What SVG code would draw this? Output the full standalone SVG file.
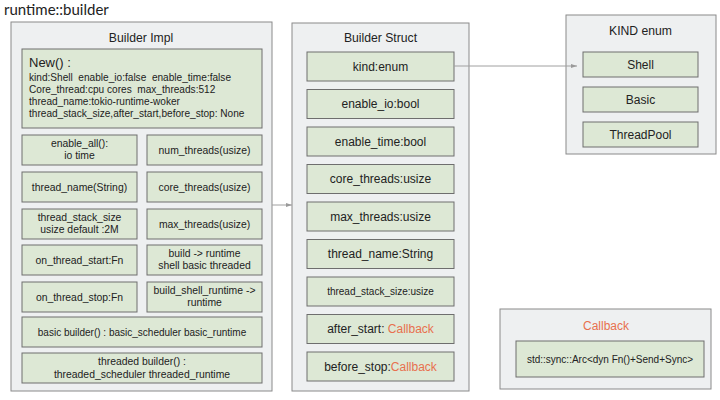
<svg xmlns="http://www.w3.org/2000/svg" width="720" height="400" viewBox="0 0 720 400">
<defs>
<style>
text{font-family:"Liberation Sans",Arial,sans-serif;fill:#222;}
.outer{fill:#eef0f1;stroke:#8a8a8a;stroke-width:1;}
.inner{fill:#dde8d5;stroke:#6e6e6e;stroke-width:1;}
.t13{font-size:12.2px;text-anchor:middle;}
.t12{font-size:12.2px;text-anchor:middle;}
.t11{font-size:12px;text-anchor:middle;}
.t10{font-size:10.4px;text-anchor:middle;}
.t9{font-size:10px;text-anchor:middle;}
.n{font-size:10.1px;}
.red{fill:#e8704e;}
.conn{stroke:#a0a0a0;stroke-width:1;fill:none;}
</style>
<marker id="arr" viewBox="0 0 10 10" refX="10" refY="5" markerWidth="6.5" markerHeight="6.5" orient="auto">
<path d="M0,1.5 L10,5 L0,8.5 z" fill="#9a9a9a"/>
</marker>
</defs>
<rect width="720" height="400" fill="#ffffff"/>
<text x="4" y="15" style="font-family:Lato,'Open Sans',sans-serif;font-size:15px;">runtime::builder</text>

<g id="builder-impl">
<rect class="outer" x="11" y="22" width="261" height="369"/>
<text class="t13" x="141" y="42">Builder Impl</text>
<g id="impl-new">
<rect class="inner" x="22" y="49" width="240" height="79"/>
<text x="29" y="67" style="font-size:13px">New() :</text>
<text class="n" x="29" y="81" xml:space="preserve">kind:Shell  enable_io:false  enable_time:false</text>
<text class="n" x="29" y="93" xml:space="preserve">Core_thread:cpu cores  max_threads:512</text>
<text class="n" x="29" y="105">thread_name:tokio-runtime-woker</text>
<text class="n" x="29" y="117">thread_stack_size,after_start,before_stop: None</text>
</g>
<g id="impl-enable-all"><rect class="inner" x="22" y="135" width="115" height="30"/>
<text class="t10" x="79.5" y="147">enable_all():</text><text class="t10" x="79.5" y="159">io time</text></g>
<g id="impl-num-threads"><rect class="inner" x="147" y="135" width="115" height="30"/>
<text class="t10" x="204.5" y="154">num_threads(usize)</text></g>
<g id="impl-thread-name"><rect class="inner" x="22" y="172" width="115" height="30"/>
<text class="t10" x="79.5" y="191">thread_name(String)</text></g>
<g id="impl-core-threads"><rect class="inner" x="147" y="172" width="115" height="30"/>
<text class="t10" x="204.5" y="191">core_threads(usize)</text></g>
<g id="impl-stack-size"><rect class="inner" x="22" y="209" width="115" height="30"/>
<text class="t10" x="79.5" y="221">thread_stack_size</text><text class="t10" x="79.5" y="233">usize default :2M</text></g>
<g id="impl-max-threads"><rect class="inner" x="147" y="209" width="115" height="30"/>
<text class="t10" x="204.5" y="228">max_threads(usize)</text></g>
<g id="impl-on-start"><rect class="inner" x="22" y="245" width="115" height="30"/>
<text class="t10" x="79.5" y="264">on_thread_start:Fn</text></g>
<g id="impl-build"><rect class="inner" x="147" y="245" width="115" height="30"/>
<text class="t10" x="204.5" y="257">build -&gt; runtime</text><text class="t10" x="204.5" y="269">shell basic threaded</text></g>
<g id="impl-on-stop"><rect class="inner" x="22" y="282" width="115" height="30"/>
<text class="t10" x="79.5" y="301">on_thread_stop:Fn</text></g>
<g id="impl-build-shell"><rect class="inner" x="147" y="282" width="115" height="30"/>
<text class="t10" x="204.5" y="294">build_shell_runtime -&gt;</text><text class="t10" x="204.5" y="306">runtime</text></g>
<g id="impl-basic"><rect class="inner" x="22" y="317" width="240" height="30"/>
<text class="t9" x="142" y="336">basic builder() : basic_scheduler basic_runtime</text></g>
<g id="impl-threaded"><rect class="inner" x="22" y="353" width="240" height="30"/>
<text class="t10" x="142" y="365">threaded builder() :</text><text class="t10" x="142" y="378">threaded_scheduler threaded_runtime</text></g>
</g>

<g id="builder-struct">
<rect class="outer" x="292" y="23" width="177" height="368"/>
<text class="t12" x="380.5" y="42">Builder Struct</text>
<g id="s-kind"><rect class="inner" x="307" y="52" width="147" height="29"/><text class="t11" x="380.5" y="70.5">kind:enum</text></g>
<g id="s-io"><rect class="inner" x="307" y="89.5" width="147" height="29"/><text class="t11" x="380.5" y="108">enable_io:bool</text></g>
<g id="s-time"><rect class="inner" x="307" y="127" width="147" height="29"/><text class="t11" x="380.5" y="145.5">enable_time:bool</text></g>
<g id="s-core"><rect class="inner" x="307" y="164.5" width="147" height="29"/><text class="t11" x="380.5" y="183">core_threads:usize</text></g>
<g id="s-max"><rect class="inner" x="307" y="202" width="147" height="29"/><text class="t11" x="380.5" y="220.5">max_threads:usize</text></g>
<g id="s-name"><rect class="inner" x="307" y="239.5" width="147" height="29"/><text class="t11" x="380.5" y="258">thread_name:String</text></g>
<g id="s-stack"><rect class="inner" x="307" y="277" width="147" height="29"/><text class="t9" x="380.5" y="295">thread_stack_size:usize</text></g>
<g id="s-after"><rect class="inner" x="307" y="314.5" width="147" height="29"/><text class="t11" x="380.5" y="333">after_start: <tspan class="red">Callback</tspan></text></g>
<g id="s-before"><rect class="inner" x="307" y="352" width="147" height="29"/><text class="t11" x="380.5" y="370.5">before_stop:<tspan class="red">Callback</tspan></text></g>
</g>

<g id="kind-enum">
<rect class="outer" x="566" y="15" width="150" height="139"/>
<text class="t12" x="640.5" y="35">KIND enum</text>
<g id="k-shell"><rect class="inner" x="583" y="52" width="115" height="25"/><text class="t11" x="640.5" y="68.5">Shell</text></g>
<g id="k-basic"><rect class="inner" x="583" y="87" width="115" height="25"/><text class="t11" x="640.5" y="103.5">Basic</text></g>
<g id="k-pool"><rect class="inner" x="583" y="122" width="115" height="25"/><text class="t11" x="640.5" y="138.5">ThreadPool</text></g>
</g>

<g id="callback">
<rect class="outer" x="500" y="309" width="211" height="80"/>
<text class="t11 red" x="606" y="330">Callback</text>
<g id="cb-arc"><rect class="inner" x="516" y="341" width="188" height="36"/><text class="t9" x="610" y="362.5">std::sync::Arc&lt;dyn Fn()+Send+Sync&gt;</text></g>
</g>

<g id="connectors">
<line class="conn" x1="272" y1="205" x2="292" y2="205" marker-end="url(#arr)"/>
<line class="conn" x1="454" y1="66" x2="577" y2="66" marker-end="url(#arr)"/>
</g>
</svg>
